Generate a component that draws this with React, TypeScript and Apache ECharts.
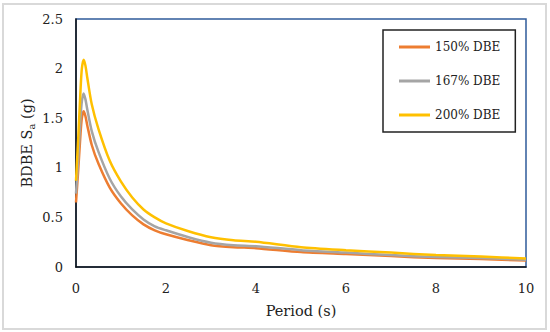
import React, { useEffect, useRef } from "react";
import * as echarts from "echarts";

const periods = [0, 0.05, 0.1, 0.13, 0.17, 0.21, 0.25, 0.35, 0.5, 0.75, 1, 1.25, 1.5, 1.75, 2, 2.5, 3, 3.5, 4, 5, 6, 7, 8, 9, 10];
const dbe150 = [0.65, 0.98, 1.34, 1.5, 1.57, 1.52, 1.43, 1.23, 1.04, 0.8, 0.64, 0.52, 0.43, 0.37, 0.33, 0.27, 0.22, 0.2, 0.19, 0.15, 0.13, 0.11, 0.09, 0.08, 0.065];
const dbe167 = [0.74, 1.1, 1.5, 1.67, 1.75, 1.69, 1.59, 1.37, 1.16, 0.89, 0.71, 0.58, 0.48, 0.41, 0.37, 0.3, 0.245, 0.22, 0.21, 0.17, 0.145, 0.12, 0.1, 0.09, 0.072];
const dbe200 = [0.87, 1.3, 1.78, 2.0, 2.09, 2.03, 1.91, 1.64, 1.39, 1.07, 0.86, 0.7, 0.58, 0.5, 0.44, 0.36, 0.3, 0.27, 0.255, 0.2, 0.17, 0.145, 0.12, 0.105, 0.085];
const seriesNames = ["150% DBE", "167% DBE", "200% DBE"];
const seriesColors = ["#ED7D31", "#A5A5A5", "#FFC000"];

const FONT = "DejaVu Serif";

export default function App() {
  const ref = useRef<HTMLDivElement>(null);
  useEffect(() => {
    if (!ref.current) return;
    const chart = echarts.init(ref.current, null, { renderer: "svg" });
    const all = [dbe150, dbe167, dbe200];
    chart.setOption({
      animation: false,
      backgroundColor: "#ffffff",
      graphic: [
        {
          type: "rect",
          shape: { x: 3, y: 4, width: 543, height: 325 },
          style: { fill: "none", stroke: "#d9d9d9", lineWidth: 2 },
          silent: true,
        },
      ],
      grid: {
        left: 76,
        right: 24,
        top: 19,
        bottom: 65,
        show: true,
        borderColor: "#2F5B9A",
        borderWidth: 1.5,
        backgroundColor: "transparent",
      },
      legend: {
        orient: "vertical",
        left: 383,
        top: 30,
        padding: [10, 15, 10, 16],
        itemGap: 20,
        itemWidth: 31,
        itemHeight: 3,
        icon: "rect",
        borderColor: "#222",
        borderWidth: 1.5,
        textStyle: { fontFamily: FONT, fontSize: 12, color: "#222", lineHeight: 14 },
        data: seriesNames,
      },
      xAxis: {
        type: "value",
        min: 0,
        max: 10,
        interval: 2,
        name: "Period (s)",
        nameLocation: "middle",
        nameGap: 36,
        nameMoveOverlap: false,
        nameTextStyle: { fontFamily: FONT, fontSize: 14.5, color: "#222" },
        axisLine: { show: true, lineStyle: { color: "#111", width: 1.5 } },
        axisTick: { show: false },
        splitLine: { show: false },
        axisLabel: { fontFamily: FONT, fontSize: 13, color: "#222", margin: 15 },
      },
      yAxis: {
        type: "value",
        min: 0,
        max: 2.5,
        interval: 0.5,
        name: "{n|BDBE S}{s|a}{n| (g)}",
        nameLocation: "middle",
        nameGap: 40,
        nameMoveOverlap: false,
        nameTextStyle: {
          rich: {
            n: { fontFamily: FONT, fontSize: 14.5, color: "#222" },
            s: { fontFamily: FONT, fontSize: 10, color: "#222", padding: [8, 0, 0, 0] },
          },
        },
        axisLine: { show: true, lineStyle: { color: "#111", width: 1.5 } },
        axisTick: { show: false },
        splitLine: { show: false },
        axisLabel: { fontFamily: FONT, fontSize: 13, color: "#222", margin: 13 },
      },
      series: all.map((vals, i) => ({
        name: seriesNames[i],
        type: "line",
        smooth: 0.25,
        symbol: "none",
        showSymbol: false,
        lineStyle: { color: seriesColors[i], width: 2.5 },
        itemStyle: { color: seriesColors[i] },
        data: periods.map((p, j) => [p, vals[j]]),
      })),
    });
    return () => chart.dispose();
  }, []);
  return (
    <div
      ref={ref}
      style={{ position: "fixed", left: 0, top: 0, width: 550, height: 332 }}
    />
  );
}
